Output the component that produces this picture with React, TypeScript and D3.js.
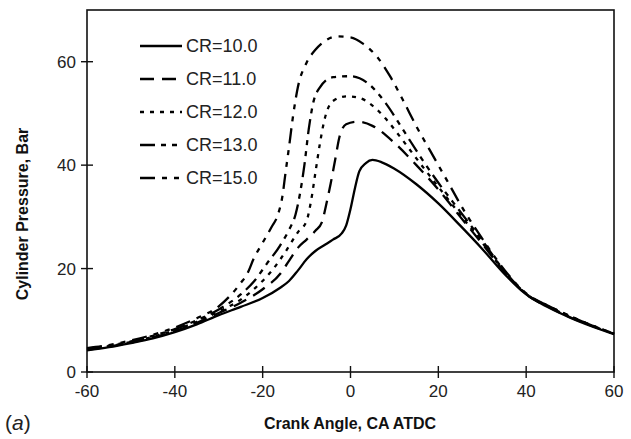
import React from "react";
import * as d3 from "d3";

type Pt = [number, number];

// [crank angle (deg ATDC), cylinder pressure (bar)]
const cr10: Pt[] = [
  [-60, 4.2], [-55, 4.8], [-50, 5.6], [-45, 6.5], [-40, 7.7], [-35, 9.2], [-30, 11.0],
  [-25, 12.6], [-20, 14.3], [-16, 16.3], [-14, 17.6], [-12, 19.6], [-10, 21.8], [-8, 23.4],
  [-6, 24.5], [-4, 25.6], [-2, 26.8], [-1, 28.3], [0, 31.5], [1, 35.5], [2, 38.8],
  [3.5, 40.4], [5, 41.0], [7, 40.6], [10, 39.3], [15, 36.3], [20, 32.6], [25, 28.3],
  [30, 23.8], [35, 19.0], [40, 15.0], [45, 12.5], [50, 10.5], [55, 8.8], [60, 7.3],
];
const cr11: Pt[] = [
  [-60, 4.3], [-55, 4.9], [-50, 5.7], [-45, 6.7], [-40, 7.9], [-35, 9.5], [-30, 11.4],
  [-25, 13.4], [-20, 16.0], [-16, 19.0], [-14, 21.5], [-12, 24.0], [-10, 25.6], [-8, 27.3],
  [-6.5, 29.0], [-5.5, 32.5], [-4.5, 36.5], [-3.5, 41.0], [-2.5, 45.5], [-1, 47.9],
  [1.5, 48.4], [5, 47.6], [10, 44.3], [15, 40.0], [20, 35.3], [25, 30.0], [30, 24.8],
  [35, 19.4], [40, 15.0], [45, 12.6], [50, 10.6], [55, 8.9], [60, 7.4],
];
const cr12: Pt[] = [
  [-60, 4.4], [-55, 5.0], [-50, 5.8], [-45, 6.8], [-40, 8.1], [-35, 9.7], [-30, 11.7],
  [-25, 14.0], [-21, 16.8], [-18, 19.5], [-15, 23.0], [-12, 27.0], [-10, 29.2], [-9, 33.0],
  [-8, 38.5], [-7, 44.0], [-6, 48.5], [-4, 52.4], [-1, 53.3], [2, 53.0], [5, 51.5],
  [8, 49.0], [11, 45.8], [15, 41.3], [20, 35.8], [25, 30.4], [30, 25.0], [35, 19.5],
  [40, 15.1], [45, 12.7], [50, 10.7], [55, 9.0], [60, 7.4],
];
const cr13: Pt[] = [
  [-60, 4.5], [-55, 5.1], [-50, 5.9], [-45, 7.0], [-40, 8.3], [-35, 10.0], [-30, 12.1],
  [-25, 15.0], [-22, 17.5], [-19, 21.0], [-16, 24.5], [-14, 27.5], [-12.5, 30.5],
  [-11.5, 34.5], [-10.5, 40.0], [-9.5, 47.0], [-8.5, 52.0], [-7, 55.0], [-4, 57.0],
  [0, 57.2], [4, 55.8], [8, 52.0], [12, 46.8], [16, 41.5], [20, 36.6], [25, 31.0],
  [30, 25.4], [35, 19.6], [40, 15.1], [45, 12.8], [50, 10.8], [55, 9.0], [60, 7.4],
];
const cr15: Pt[] = [
  [-60, 4.6], [-55, 5.2], [-50, 6.1], [-45, 7.2], [-40, 8.6], [-35, 10.4], [-30, 12.7],
  [-25, 17.2], [-23.5, 19.0], [-22, 22.0], [-20, 25.0], [-18, 28.0], [-16.5, 30.5],
  [-15.5, 34.0], [-14.8, 38.5], [-14, 43.5], [-13, 50.0], [-12, 55.0], [-10, 59.8],
  [-8, 62.3], [-6, 63.9], [-3, 64.9], [0, 64.7], [3, 63.4], [6, 61.0], [9, 57.2],
  [12, 52.5], [15, 47.5], [18, 43.0], [22, 37.0], [26, 31.0], [30, 25.8], [35, 19.8],
  [40, 15.2], [45, 12.8], [50, 10.8], [55, 9.0], [60, 7.4],
];

const seriesNames = ["CR=10.0", "CR=11.0", "CR=12.0", "CR=13.0", "CR=15.0"];
const seriesData = [cr10, cr11, cr12, cr13, cr15];
const dashes = ["none", "14,8", "4,6", "15,6,5,6,5,6", "15,7,5,7,5,7"];

const xTicks = [-60, -40, -20, 0, 20, 40, 60];
const yTicks = [0, 20, 40, 60];

const xTitle = "Crank Angle, CA ATDC";
const yTitle = "Cylinder Pressure, Bar";

export default function App() {
  const W = 631, H = 439;
  const x = d3.scaleLinear().domain([-60, 60]).range([87, 614]);
  const y = d3.scaleLinear().domain([0, 70]).range([372, 10]);
  const line = d3
    .line<Pt>()
    .x((d) => x(d[0]))
    .y((d) => y(d[1]))
    .curve(d3.curveMonotoneX);
  const font = "'Liberation Sans', Arial, Helvetica, sans-serif";
  const legX0 = 140, legX1 = 182, legY0 = 46, legDY = 33;

  return (
    <svg
      width={W}
      height={H}
      style={{ position: "absolute", left: 0, top: 0, background: "#fff" }}
      fontFamily={font}
    >
      <rect x={0} y={0} width={W} height={H} fill="#fff" />
      {/* frame */}
      <rect
        x={x(-60)}
        y={y(70)}
        width={x(60) - x(-60)}
        height={y(0) - y(70)}
        fill="none"
        stroke="#111"
        strokeWidth={1.6}
      />
      {/* x ticks */}
      {xTicks.map((t) => (
        <g key={"xt" + t}>
          <line x1={x(t)} x2={x(t)} y1={y(0) - 6} y2={y(0) + 6} stroke="#111" strokeWidth={1.4} />
          <text x={x(t)} y={y(0) + 25} textAnchor="middle" fontSize={17} fill="#222">
            {t}
          </text>
        </g>
      ))}
      {/* y ticks */}
      {yTicks.map((t) => (
        <g key={"yt" + t}>
          <line x1={x(-60) - 6} x2={x(-60) + 6} y1={y(t)} y2={y(t)} stroke="#111" strokeWidth={1.4} />
          <text x={x(-60) - 11} y={y(t)} dy="0.35em" textAnchor="end" fontSize={17} fill="#222">
            {t}
          </text>
        </g>
      ))}
      {/* curves */}
      {seriesData.map((s, i) => (
        <path
          key={"s" + i}
          d={line(s) || ""}
          fill="none"
          stroke="#000"
          strokeWidth={2.3}
          strokeDasharray={dashes[i]}
        />
      ))}
      {/* legend */}
      {seriesNames.map((n, i) => (
        <g key={"lg" + i}>
          <line
            x1={legX0}
            x2={legX1}
            y1={legY0 + i * legDY}
            y2={legY0 + i * legDY}
            stroke="#000"
            strokeWidth={2.4}
            strokeDasharray={dashes[i]}
          />
          <text x={legX1 + 4} y={legY0 + i * legDY} dy="0.35em" fontSize={18} fill="#222">
            {n}
          </text>
        </g>
      ))}
      {/* axis titles */}
      <text x={350} y={429} textAnchor="middle" fontSize={16} fontWeight="bold" fill="#111">
        {xTitle}
      </text>
      <text
        transform={`translate(28,214) rotate(-90)`}
        textAnchor="middle"
        fontSize={16}
        fontWeight="bold"
        fill="#111"
      >
        {yTitle}
      </text>
      <text x={5} y={430} fontSize={21} fill="#222">
        (<tspan fontStyle="italic">a</tspan>)
      </text>
    </svg>
  );
}
